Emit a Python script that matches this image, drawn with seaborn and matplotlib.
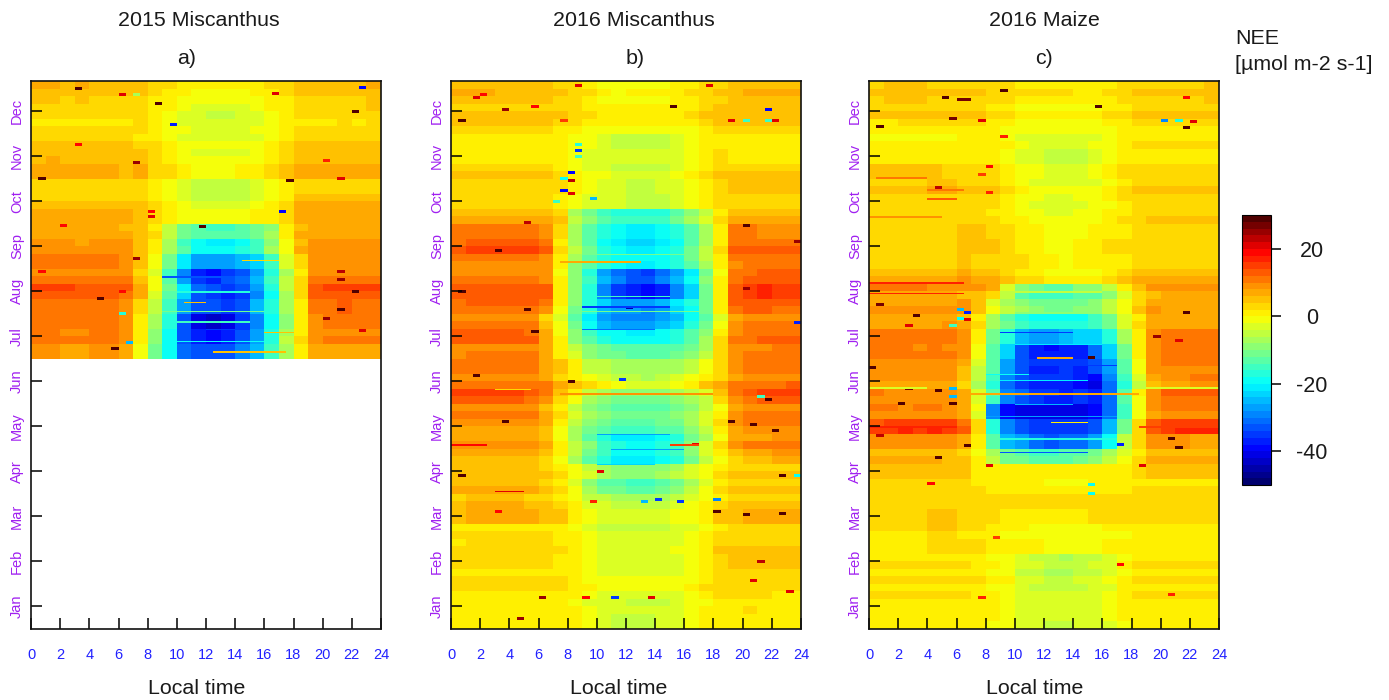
import numpy as np
import seaborn as sns
import matplotlib.pyplot as plt
from matplotlib.colors import LinearSegmentedColormap

# NEE: rows are 10 day blocks from December (top) down, columns are hours 0-23
nee_2015_misc = [
    [5,5,4,5,4,4,4,4,2,1,0,-1,-1,-1,-1,0,1,2,4,4,4,4,4,5],
    [3,3,3,3,3,3,3,3,1,0,-2,-3,-4,-4,-3,-2,0,1,3,3,3,3,3,4],
    [2,2,2,2,2,2,2,3,1,-1,-2,-3,-3,-3,-3,-2,-1,1,2,2,2,3,2,3],
    [3,3,3,3,3,3,3,2,1,0,-2,-2,-3,-3,-3,-2,0,1,3,3,3,3,3,3],
    [4,5,4,4,4,4,4,4,2,0,-2,-3,-3,-3,-3,-2,0,2,4,4,4,4,4,4],
    [6,6,6,6,6,6,5,6,3,2,0,-1,-1,-1,0,1,2,4,6,6,6,6,6,6],
    [4,4,4,3,4,4,4,3,2,0,-2,-4,-5,-5,-4,-2,0,2,4,4,4,4,4,4],
    [4,4,4,4,4,4,4,3,2,0,-2,-4,-5,-5,-4,-2,0,2,5,5,5,5,5,5],
    [6,6,6,6,6,6,6,5,3,1,-1,-1,-2,-2,-1,0,1,3,6,6,6,6,6,6],
    [7,7,7,7,7,7,6,5,2,-5,-11,-13,-14,-14,-13,-11,-8,1,6,7,7,7,7,7],
    [8,8,8,7,8,8,8,4,0,-8,-15,-20,-21,-21,-19,-16,-9,-2,5,8,8,8,8,8],
    [10,10,10,10,10,10,9,5,-1,-11,-21,-28,-27,-28,-26,-24,-15,-4,3,9,9,8,9,9],
    [10,10,10,10,10,10,9,4,-3,-14,-28,-36,-38,-35,-32,-26,-16,-6,2,10,10,9,9,9],
    [12,12,12,11,11,11,10,5,-4,-14,-24,-34,-36,-38,-36,-30,-20,-8,1,11,12,12,12,12],
    [11,11,11,11,11,11,9,3,-6,-16,-27,-33,-33,-36,-33,-26,-18,-7,1,11,11,12,11,11],
    [10,10,10,10,10,10,8,1,-8,-18,-34,-42,-44,-42,-36,-30,-20,-9,0,9,10,10,10,10],
    [10,10,9,9,10,10,8,0,-10,-20,-34,-38,-40,-38,-34,-28,-18,-7,1,8,9,9,9,9],
    [9,9,8,8,9,9,7,0,-10,-19,-30,-32,-33,-32,-29,-24,-14,-6,1,8,8,8,8,8],
]
nee_2016_misc = [
    [5,5,5,4,4,4,4,3,2,1,-1,-2,-1,-1,-1,0,1,2,3,4,5,5,5,5],
    [3,3,3,3,3,3,3,3,2,1,0,0,0,0,0,0,1,3,4,4,4,4,4,4],
    [3,3,3,3,3,3,3,2,1,0,-1,-1,-1,-1,-1,-1,0,2,3,3,3,3,3,3],
    [2,2,2,1,1,2,2,1,0,-1,-3,-4,-4,-4,-4,-3,-1,1,2,2,2,2,2,2],
    [2,2,2,2,2,2,2,1,0,-2,-3,-3,-3,-3,-3,-2,-1,1,3,2,2,2,2,2],
    [4,4,4,4,4,4,3,2,0,-2,-3,-4,-4,-4,-4,-3,-1,1,3,3,3,3,3,3],
    [3,3,3,3,3,3,3,2,0,-2,-3,-4,-5,-5,-4,-3,-1,1,3,4,4,4,4,4],
    [3,3,3,3,3,3,3,1,0,-2,-3,-3,-4,-4,-4,-3,-1,1,3,4,4,4,4,4],
    [6,6,6,6,6,6,6,3,-6,-10,-14,-16,-17,-17,-16,-13,-9,-4,1,5,6,6,6,6],
    [11,11,11,11,11,11,9,2,-8,-13,-18,-20,-21,-21,-20,-18,-13,-7,0,10,10,9,9,9],
    [11,12,12,12,12,12,10,1,-8,-13,-19,-22,-23,-23,-22,-20,-14,-7,0,10,10,10,10,10],
    [10,10,10,10,10,10,9,1,-8,-13,-17,-19,-20,-20,-19,-17,-12,-6,1,10,11,11,11,11],
    [10,10,10,10,10,10,9,0,-9,-16,-26,-30,-33,-34,-30,-26,-20,-10,0,11,12,13,13,13],
    [12,12,12,12,12,12,11,0,-10,-18,-30,-36,-39,-40,-38,-30,-24,-13,0,12,14,15,14,14],
    [11,12,12,12,12,12,10,0,-10,-17,-24,-27,-27,-28,-26,-22,-18,-11,1,12,13,13,12,12],
    [11,11,11,11,11,10,5,-2,-11,-19,-26,-27,-28,-28,-26,-23,-18,-12,-1,8,10,10,10,10],
    [11,11,11,11,11,10,5,-2,-11,-16,-20,-21,-22,-22,-21,-19,-15,-10,0,8,9,10,10,10],
    [9,10,10,10,10,10,7,1,-4,-9,-11,-12,-13,-13,-13,-12,-10,-6,3,9,10,10,11,11],
    [10,10,11,11,11,10,7,4,0,-5,-6,-7,-7,-7,-7,-7,-5,-2,3,8,10,10,10,10],
    [9,9,9,9,9,9,8,4,2,0,-2,-4,-5,-6,-5,-3,-1,2,4,8,9,9,9,10],
    [12,12,12,12,12,11,9,2,-2,-7,-10,-11,-12,-11,-11,-10,-8,-5,2,9,11,12,12,12],
    [9,10,10,10,10,9,6,1,-4,-9,-11,-13,-13,-13,-12,-11,-8,-4,0,8,10,10,10,10],
    [7,8,7,7,7,7,5,0,-6,-10,-13,-14,-15,-14,-13,-12,-8,-5,1,7,9,9,9,9],
    [7,7,7,7,7,7,5,-1,-7,-12,-17,-20,-21,-21,-19,-17,-11,-6,0,7,8,8,9,9],
    [5,5,5,5,5,5,4,-1,-7,-12,-17,-20,-20,-20,-18,-16,-10,-5,0,4,5,5,7,7],
    [4,4,4,4,4,4,3,1,-2,-5,-8,-10,-10,-10,-9,-7,-4,-2,1,3,3,3,3,3],
    [5,5,5,5,5,5,4,1,-3,-8,-12,-13,-14,-14,-13,-11,-7,-3,1,3,3,3,3,3],
    [4,5,5,5,5,4,3,1,-1,-4,-5,-6,-6,-7,-6,-5,-3,-1,2,3,3,3,3,3],
    [4,5,5,5,5,5,4,3,0,-3,-4,-4,-4,-4,-4,-3,-2,0,3,4,5,5,5,5],
    [2,2,2,2,2,2,2,1,0,-2,-4,-4,-4,-4,-4,-3,-2,0,2,3,3,3,3,3],
    [1,2,2,2,2,2,2,1,0,-2,-4,-4,-4,-4,-4,-3,-2,0,3,3,3,3,3,3],
    [2,3,3,3,3,3,2,1,0,-2,-3,-3,-3,-3,-3,-3,-2,0,2,4,4,4,4,4],
    [1,1,1,1,1,1,1,1,0,-2,-3,-3,-3,-3,-3,-3,-2,0,2,2,2,2,2,2],
    [1,1,1,1,1,1,1,1,0,-1,-3,-3,-3,-3,-3,-3,-1,1,2,2,2,2,1,1],
    [1,1,1,1,1,1,1,1,0,-2,-3,-3,-4,-4,-4,-3,-1,0,1,1,2,1,1,1],
    [1,1,1,1,1,1,1,0,0,-2,-3,-5,-5,-5,-4,-3,-1,0,1,1,1,0,0,0],
]
nee_2016_maize = [
    [3,4,4,4,3,3,3,3,2,2,1,1,1,1,0,0,1,2,3,3,3,3,3,4],
    [3,3,3,3,3,3,3,3,2,1,0,0,0,0,0,0,1,2,3,3,3,3,3,3],
    [1,1,2,2,2,2,2,2,1,0,-1,-1,-1,-1,-1,-1,0,1,2,2,2,2,2,2],
    [0,0,0,0,0,0,1,1,1,0,-2,-3,-3,-3,-3,-2,-1,1,2,2,2,2,2,2],
    [1,1,1,1,1,1,1,1,1,0,-3,-3,-4,-4,-4,-3,-1,1,2,2,2,2,2,2],
    [3,3,3,3,3,2,2,2,1,0,-3,-3,-4,-4,-4,-3,-1,1,2,2,2,2,2,2],
    [3,3,3,3,4,4,3,2,2,0,-2,-3,-4,-4,-4,-3,-1,1,2,2,2,2,2,2],
    [2,2,2,2,2,2,2,2,2,0,-2,-3,-4,-4,-3,-2,-1,1,2,2,2,2,2,2],
    [2,2,2,2,2,2,2,2,1,0,-1,-2,-3,-3,-2,-2,0,1,2,3,3,3,3,3],
    [2,2,2,2,2,2,4,4,3,2,1,0,-1,-1,-1,0,1,1,2,2,2,2,2,2],
    [2,2,2,2,2,2,4,4,4,2,1,0,-1,-1,0,1,2,2,2,2,2,2,2,2],
    [2,2,2,2,2,2,4,3,3,3,2,1,0,-1,0,0,1,1,2,2,2,2,2,2],
    [3,3,3,3,3,3,6,3,3,2,0,-1,-3,-3,-3,-2,0,2,3,4,4,4,4,4],
    [8,8,8,8,7,7,6,6,4,-5,-12,-14,-15,-15,-12,-12,-8,-2,3,6,7,7,7,7],
    [7,7,7,7,7,7,8,4,-3,-7,-9,-11,-12,-12,-11,-10,-6,-2,3,7,6,6,6,6],
    [7,7,7,7,7,8,6,2,-7,-12,-16,-18,-18,-18,-18,-15,-11,-3,2,7,7,7,7,7],
    [10,9,9,9,9,9,7,0,-12,-18,-26,-28,-28,-27,-25,-24,-18,-8,0,8,10,10,9,9],
    [10,10,10,9,10,9,8,-2,-14,-24,-34,-38,-39,-38,-38,-32,-24,-12,0,8,10,10,10,10],
    [8,8,8,8,8,8,5,-5,-14,-28,-34,-37,-37,-36,-37,-34,-28,-14,-2,8,9,9,9,9],
    [8,9,9,9,9,8,5,-6,-15,-30,-34,-36,-36,-36,-38,-40,-30,-16,-3,7,9,9,10,10],
    [9,8,8,8,8,8,6,-4,-15,-30,-33,-36,-37,-38,-36,-38,-32,-14,-1,8,11,11,11,11],
    [9,9,8,9,9,8,6,-3,-30,-40,-42,-42,-42,-42,-42,-40,-32,-16,-2,7,9,9,9,9],
    [11,12,13,12,13,12,9,0,-20,-32,-36,-38,-38,-38,-38,-36,-28,-14,0,10,12,13,13,13],
    [9,9,9,9,9,9,7,0,-14,-26,-28,-31,-33,-32,-32,-28,-20,-6,2,8,8,8,7,7],
    [6,6,6,6,6,5,4,0,-6,-11,-12,-14,-14,-13,-12,-10,-6,-2,2,6,6,6,6,6],
    [5,5,5,5,5,5,4,1,0,0,0,0,0,0,0,0,0,1,3,4,4,4,4,4],
    [3,3,3,3,3,3,3,2,1,1,1,1,0,0,0,1,1,1,2,2,2,2,2,2],
    [2,3,3,3,3,3,3,3,3,3,3,3,3,3,3,3,3,2,2,2,2,2,2,2],
    [2,2,2,2,4,4,2,2,2,1,1,1,0,0,1,2,2,2,2,2,2,2,2,2],
    [2,2,2,2,4,4,2,2,1,0,0,-1,-1,-1,-1,-1,0,0,1,1,1,1,1,1],
    [1,1,1,1,2,2,2,2,1,0,0,0,-1,-1,-1,-1,0,1,1,1,1,1,1,1],
    [2,2,2,2,2,2,2,1,0,-1,-3,-4,-5,-6,-5,-4,-3,0,2,2,2,2,2,2],
    [1,1,1,1,1,1,1,1,0,-1,-4,-5,-6,-6,-5,-4,-3,0,1,1,1,1,1,1],
    [2,2,2,2,2,2,2,1,0,-1,-3,-4,-4,-4,-4,-3,-2,1,2,2,2,2,2,2],
    [1,1,1,1,1,1,1,1,0,-1,-3,-3,-4,-4,-4,-3,-2,0,1,1,1,1,1,1],
    [1,1,1,1,1,1,1,1,0,-1,-3,-3,-4,-4,-3,-3,-2,0,1,1,1,1,1,1],
]

# shift of each 5 day stripe against its block, read from the night hours, top stripe first
stripes_a = [1,0,-1, 0,-1, -1,0, -1,1, 0,1, 0,0, -1,-1, -1,1, 0,0, -1,0, 0,1, 0,0, -1,1, 2,1, 0,0, 0,0, 0,1, -1,-1]
stripes_b = [0,1,0, 0,1, 1,-1, -1,-1, -1,-1, -1,1, 0,0, -1,-1, -1,1, 0,0, 0,2, 0,-1, -1,0, 1,1, 0,-1, -2,0, 1,2, -1,0,
             0,0, -1,2, 2,0, -1,1, 1,-1, -1,2, 1,-1, 0,1, -1,1, -1,1, 1,1, -1,0, 0,1, 0,0, 0,1, 1,0, -1,0, 0,0]
stripes_c = [0,1,0, -1,1, 0,-1, -1,0, -1,-1, 1,1, 0,2, 1,0, 0,1, 0,0, 0,0, 0,0, 1,3, 2,-1, 0,1, -1,0, 1,1, 0,1,
             1,0, 0,-2, 1,0, 1,0, 2,3, 0,0, -1,0, 0,0, -1,0, 0,0, 0,0, 0,-1, 0,0, -1,0, -1,1, -1,0, 0,0, 0,-1]

# single outlier cells: (day of year, hour, value)
spots_a = [
    (360,3.2,30),(356,6.2,20),(356,7.3,-8),(350,8.8,28),(336,9.7,-38),(361,22.8,-40),(345,22.3,28),
    (357,16.8,20),(300,21.3,20),(299,17.8,28),(278,17.3,-40),(268,11.8,28),(275,8,20),(278,8,18),
    (269,2.3,18),(300,0.6,28),(311,7.2,25),(323,3.2,18),(312,20.3,16),(220,4.7,28),(210,6.2,-18),
    (187,5.8,28),(191,6.8,-25),(247,7.2,25),(238,0.6,18),(225,6.2,18),(238,21.3,22),(233,21.3,25),
    (225,22.3,28),(213,21.3,28),(207,20.3,25),(199,22.8,20),
]
spots_b = [
    (362,8.7,20),(354,1.8,20),(356,2.3,18),(348,5.8,18),(346,3.7,25),(339,0.8,28),(339,7.7,14),
    (348,15.2,28),(362,17.8,20),(346,21.7,-40),(339,21.7,-16),(339,19.3,20),(339,20,-15),(339,22,20),
    (323,8.7,-18),(319,8.7,-35),(315,8.7,-15),(300,7.7,-20),(304,8.3,-40),(299,8.3,22),(292,7.7,-40),
    (290,8.3,20),(285,7.3,-15),(287,9.7,-25),(269,20.3,28),(258,23.5,25),(252,3.2,28),(271,5.2,22),
    (225,0.5,30),(227,20.3,25),(214,12.3,-45),(204,23.7,-38),(213,5.4,28),(198,5.6,28),(169,1.5,28),
    (165,8.3,28),(166,11.8,-35),(155,21.4,-15),(153,21.9,28),(138,3.7,28),(138,19.3,28),(136,20.7,28),
    (132,22.3,28),(123,16.7,20),(105,10.2,20),(102,22.8,28),(102,23.5,-20),(102,0.7,28),(86,14.1,-35),
    (85,15.7,-35),(86,18.2,-30),(85,13.2,-25),(85,9.7,16),(78,18.2,28),(76,20.3,28),(77,22.8,28),
    (78,3.2,18),(45,21.3,22),(21,6.2,24),(21,9.3,18),(21,11.2,-35),(21,13.8,20),(32,20.7,20),
    (7,4.7,24),(25,23.2,20),
]
spots_c = [
    (354,5.2,28),(353,6.4,26),(353,6.9,26),(359,9.2,28),(340,5.7,26),(335,0.8,28),(339,7.7,20),
    (348,15.7,28),(354,21.8,18),(339,20.3,-30),(339,21.3,-18),(338,22.2,20),(334,21.8,28),(328,9.2,16),
    (308,8.3,18),(303,7.7,14),(294,4.7,22),(291,8.2,16),(213,6,-25),(211,6.6,-38),(207,6,-20),
    (206,6.6,20),(202,5.7,-15),(216,0.6,26),(209,3.3,28),(202,2.6,20),(211,21.8,28),(195,19.5,25),
    (192,21,20),(159,4.7,28),(160,2.7,26),(150,2.2,28),(150,5.7,28),(160,5.7,-25),(155,5.8,-25),
    (174,0.3,28),(129,0.6,22),(122,6.6,28),(123,17.2,-38),(127,20.8,28),(121,21.3,28),(114,4.7,28),
    (109,8.2,20),(109,18.8,20),(96,15.3,-20),(90,15.3,-20),(97,4.2,18),(43,17.2,18),(23,20.8,16),
    (21,7.7,16),(61,8.8,14),(181,15,30),
]

# thin horizontal lines: (day of year, first hour, last hour, value)
lines_a = [
    (218,10.5,12,5),(185,12.5,17.5,5),(198,16,18,5),(246,14.5,17,2),(205,10,15,-15),(212,9,16,-12),
    (225,10,15,-18),(235,9,14,-34),(192,9,16,-20),(200,12,15,-36),
]
lines_b = [
    (245,7.5,13,6),(157,7.5,18,8),(160,3,5.5,2),(123,0,2.5,18),(123,15,17,14),(92,3,5,20),
    (215,9,15,-36),(212,9,17,-12),(222,10,15,-15),(200,9,14,-32),(130,10,15,-27),(120,11,16,-27),
    (110,10,14,-24),(250,9,16,-12),
]
lines_c = [
    (301,0.8,4,10),(275,0,5,9),(293,4,6.5,10),(287,4,6,12),(231,0,6.5,17),(224,0,6.5,17),
    (161,0,4,-3),(161,19,24,-3),(135,0,6,17),(135,18.6,24,15),(181,11.5,14,6),(138,12.6,15,0),(157,6,18.5,6),
    (170,8,11,-20),(176,12,17,-36),(166,9,15,-22),(150,10,14,-25),(142,8,17,-28),(127,9,17,-18),
    (118,9,15,-34),(190,10,16,-22),(198,9,14,-36),(211,10,16,-10),(225,9,16,-5),
]

panel_titles = ['2015 Miscanthus', '2016 Miscanthus', '2016 Maize']
panel_tags = ['a)', 'b)', 'c)']
months = ['Jan', 'Feb', 'Mar', 'Apr', 'May', 'Jun', 'Jul', 'Aug', 'Sep', 'Oct', 'Nov', 'Dec']
month_days = [15, 45, 75, 105, 135, 165, 195, 225, 255, 285, 315, 345]
hour_labels = list(range(0, 25, 2))
cbar_ticks = [20, 0, -20, -40]

W, H = 1389, 700
plt.rcParams['font.family'] = ['Liberation Sans', 'DejaVu Sans']


def day_matrix(blocks, stripes, spots, lines):
    # top block covers 15 days, the others 10, each hour split in two half hours
    blocks = np.repeat(np.array(blocks, dtype=float), 2, axis=1)
    counts = [15] + [10] * (len(blocks) - 1)
    m = np.repeat(blocks, counts, axis=0)
    m += np.repeat(stripes, 5)[:len(m), None]
    m = np.vstack([m, np.full((365 - len(m), 48), np.nan)])
    for day, hour, val in spots:
        m[364 - day:366 - day, int(hour * 2)] = val
    for day, h0, h1, val in lines:
        m[365 - day, int(h0 * 2):int(h1 * 2)] = val
    return m


def px_axes(x0, y0, x1, y1):
    return fig.add_axes([x0 / W, 1 - y1 / H, (x1 - x0) / W, (y1 - y0) / H])


def px_text(x, y, s, **kw):
    fig.text(x / W, 1 - y / H, s, va='center', color='#1a1a1a', **kw)


# jet like scale running from -50 to 30 with yellow at zero
nodes = [(0, '#00006e'), (10 / 80, '#0000ff'), (30 / 80, '#00ffff'), (40 / 80, '#80ff80'),
         (50 / 80, '#ffff00'), (60 / 80, '#ff8c00'), (70 / 80, '#ff0000'), (1, '#500000')]
cmap = LinearSegmentedColormap.from_list('nee', nodes, N=40)

fig = plt.figure(figsize=(W / 100, H / 100), dpi=100)
cax = px_axes(1242, 215, 1271, 485)

panels = [
    (nee_2015_misc, stripes_a, spots_a, lines_a, 31, 381, 199, 187, 197),
    (nee_2016_misc, stripes_b, spots_b, lines_b, 451, 801, 634, 635, 619),
    (nee_2016_maize, stripes_c, spots_c, lines_c, 869, 1219, 1044, 1044, 1035),
]
for i, (blocks, stripes, spots, lines, x0, x1, title_x, tag_x, xlab_x) in enumerate(panels):
    ax = px_axes(x0, 81, x1, 629)
    last = i == 2
    sns.heatmap(day_matrix(blocks, stripes, spots, lines), ax=ax, cmap=cmap, vmin=-50, vmax=30,
                cbar=last, cbar_ax=cax if last else None, xticklabels=False, yticklabels=False)
    for s in ax.spines.values():
        s.set_visible(True)
        s.set_linewidth(1.2)
        s.set_color('#111111')
    ax.set_xticks(np.arange(0, 49, 4))
    ax.set_xticklabels(hour_labels, color='#2222ff', fontsize=10.5)
    ax.set_yticks([365 - d for d in month_days])
    ax.set_yticklabels(months, color='#a020f0', fontsize=10.5, rotation=90, va='center')
    ax.tick_params(axis='x', direction='in', length=8, width=1.1, pad=14)
    ax.tick_params(axis='y', direction='in', length=8, width=1.1, pad=5)
    px_text(title_x, 20, panel_titles[i], ha='center', fontsize=15.4)
    px_text(tag_x, 58, panel_tags[i], ha='center', fontsize=15.4)
    px_text(xlab_x, 689, 'Local time', ha='center', fontsize=15.4)

cbar = ax.collections[0].colorbar
cbar.set_ticks(cbar_ticks)
cbar.set_ticklabels(cbar_ticks, fontsize=15.5, color='#1a1a1a', ha='center')
cbar.ax.tick_params(length=7.5, width=1.1, pad=22)
cbar.outline.set_visible(True)
cbar.outline.set_linewidth(0.8)

px_text(1235, 38, 'NEE', ha='left', fontsize=15.4)
px_text(1235, 64, '[µmol m-2 s-1]', ha='left', fontsize=15.4)

plt.savefig('out.png', dpi=100)
